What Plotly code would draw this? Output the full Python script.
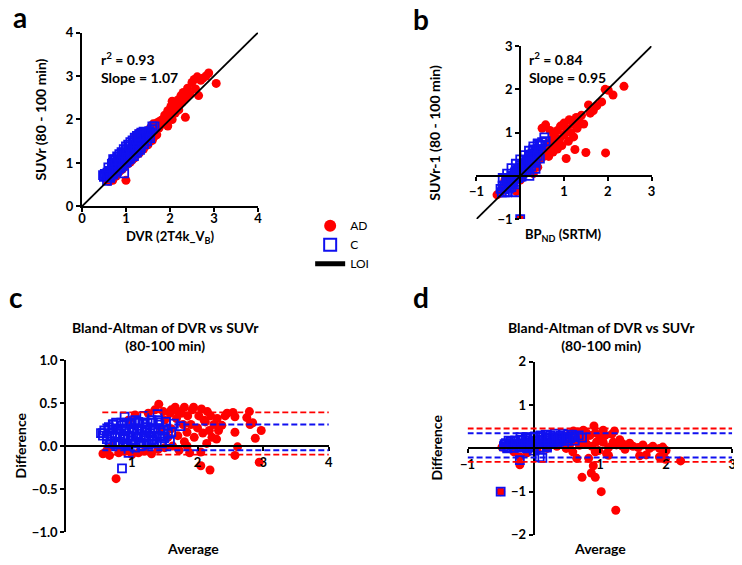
import plotly.graph_objects as go

W, H = 742, 565
OFF = 8  # default page body margin
FONT = "Lato"

# ---------------- Panel a: DVR vs SUVr ----------------
a_ad_x = [0.55,0.62,0.70,0.68,0.78,0.85,0.92,1.00,0.98,1.05,1.10,1.15,1.20,1.25,1.30,1.35,1.40,1.45,1.50,1.55,1.60,1.65,1.70,1.30,1.38,1.22,1.45,1.55,1.62,1.70,1.75,1.80,1.85,1.88,1.92,1.95,2.00,2.02,2.05,2.08,2.10,2.12,2.15,2.18,2.20,2.22,2.25,2.28,2.30,2.35,2.35,2.40,2.45,2.50,2.55,2.58,2.62,2.65,2.70,2.75,2.82,2.88,3.05,1.75,1.95,2.05,1.60,1.50]
a_ad_y = [0.62,0.58,0.60,0.72,0.70,0.80,0.86,0.60,0.92,0.98,1.02,1.08,1.12,1.20,1.22,1.30,1.32,1.40,1.42,1.50,1.52,1.62,1.65,1.70,1.66,1.62,1.72,1.80,1.90,1.92,1.80,1.98,1.90,2.10,2.02,2.20,2.12,2.30,2.00,2.25,2.38,2.15,2.30,2.45,2.22,2.35,2.55,2.40,2.62,2.05,2.48,2.72,2.58,2.85,2.92,2.70,2.98,2.55,2.90,2.95,3.00,3.07,2.83,1.95,1.85,2.42,1.70,1.60]
a_c_x = [0.50,0.52,0.55,0.58,0.60,0.62,0.65,0.68,0.70,0.72,0.75,0.78,0.80,0.82,0.85,0.88,0.90,0.92,0.95,0.98,1.00,1.02,1.05,1.08,1.10,1.12,1.15,1.18,1.20,1.22,1.25,1.28,1.30,1.33,1.35,1.38,1.40,1.45,1.50,1.55,1.60,1.65,
         0.70,0.75,0.80,0.85,0.90,0.95,1.00,1.05,1.10,1.15,1.20,1.25,1.30,1.35,1.40,
         0.65,0.72,0.80,0.88,0.95,1.02,1.10,1.18,1.25,1.32,
         0.96,0.48,0.71,1.60,
         0.55,0.62,0.69,0.76,0.83,0.90,0.97,1.04,1.11,1.18,1.25,1.32,1.39,1.46,1.53,
         0.57,0.64,0.71,0.78,0.85,0.92,0.99,1.06,1.13,1.20,1.27,1.34,1.41,1.48,1.55,
         0.60,0.68,0.76,0.84,0.92,1.00,1.08,1.16,1.24,1.32]
a_c_y = [0.68,0.75,0.70,0.78,0.74,0.82,0.80,0.86,0.84,0.92,0.90,0.96,0.94,1.00,0.98,1.05,1.02,1.10,1.08,1.14,1.12,1.18,1.16,1.24,1.22,1.30,1.26,1.34,1.32,1.40,1.38,1.46,1.42,1.50,1.48,1.56,1.52,1.60,1.62,1.70,1.78,1.84,
         1.00,1.08,1.15,1.20,1.25,1.32,1.38,1.42,1.48,1.52,1.58,1.62,1.66,1.70,1.72,
         0.70,0.76,0.82,0.90,0.96,1.02,1.10,1.16,1.24,1.30,
         0.76,0.72,1.09,1.84,
         0.75,0.82,0.89,0.96,1.03,1.10,1.17,1.24,1.31,1.38,1.45,1.52,1.59,1.66,1.73,
         0.59,0.66,0.73,0.80,0.87,0.94,1.01,1.08,1.15,1.22,1.29,1.36,1.43,1.50,1.57,
         0.90,0.98,1.06,1.14,1.22,1.30,1.38,1.46,1.54,1.62]

# ---------------- Panel b: BPND vs SUVr-1 ----------------
b_ad_x = [-0.53,-0.45,-0.40,-0.30,-0.09,-0.35,-0.20,0.00,0.10,0.20,0.30,0.40,0.45,0.50,0.55,0.60,0.62,0.65,0.70,0.72,0.75,0.78,0.80,0.85,0.85,0.90,0.92,0.95,1.00,1.00,1.05,1.05,1.10,1.12,1.15,1.20,1.22,1.25,1.28,1.30,1.35,1.40,1.45,1.50,1.56,1.60,1.67,1.75,1.86,1.94,1.95,2.01,2.12,2.37,0.50,0.58,0.68,0.00,0.30,0.40]
b_ad_y = [-0.44,-0.40,-0.30,-0.28,-0.36,-0.10,-0.20,-0.10,0.05,0.15,0.28,0.35,0.50,0.42,0.60,0.55,0.75,0.45,0.65,0.85,0.55,0.95,0.75,0.62,1.05,0.85,1.15,0.70,0.95,1.22,0.40,1.10,0.80,1.30,1.00,1.20,0.90,0.61,1.35,1.10,1.25,1.40,1.20,0.54,1.64,1.45,1.51,1.62,1.71,2.00,0.53,1.98,1.87,2.07,1.10,1.18,1.05,-1.00,0.05,0.20]
b_c_x = [-0.45,-0.40,-0.35,-0.32,-0.28,-0.25,-0.22,-0.18,-0.15,-0.12,-0.08,-0.05,-0.02,0.02,0.05,0.08,0.12,0.15,0.18,0.22,0.25,0.28,0.32,0.35,0.40,0.45,0.50,0.55,0.58,
         -0.40,-0.30,-0.20,-0.10,0.00,0.10,0.20,0.30,0.40,
         -0.35,-0.25,-0.15,-0.05,0.05,0.15,0.25,0.35,0.45,
         0.35,0.21,0.03,-0.10,0.00,
         -0.42,-0.36,-0.30,-0.24,-0.18,-0.12,-0.06,0.00,0.06,0.12,0.18,0.24,0.30,0.36,0.42,0.48,
         -0.40,-0.30,-0.20,-0.10,0.00,0.10,0.20,0.30,0.40,
         -0.30,-0.20,-0.10,0.00,0.10,0.20,0.30,0.40]
b_c_y = [-0.30,-0.22,-0.25,-0.12,-0.18,-0.05,-0.10,0.00,-0.02,0.08,0.05,0.15,0.10,0.20,0.18,0.28,0.25,0.36,0.32,0.44,0.40,0.52,0.50,0.60,0.62,0.72,0.78,0.89,0.80,
         -0.05,0.05,0.18,0.28,0.38,0.48,0.58,0.68,0.75,
         -0.38,-0.28,-0.15,-0.05,0.05,0.12,0.22,0.30,0.40,
         0.16,0.00,-0.02,-0.38,-1.00,
         -0.38,-0.31,-0.24,-0.17,-0.10,-0.02,0.05,0.12,0.19,0.26,0.34,0.41,0.48,0.55,0.62,0.70,
         -0.23,-0.11,0.01,0.13,0.25,0.37,0.49,0.61,0.73,
         -0.38,-0.26,-0.14,-0.02,0.10,0.22,0.34,0.46]

# ---------------- Panel c: Bland-Altman (DVR vs SUVr) ----------------
c_ad_x = [0.56,0.66,0.62,0.70,0.76,0.80,0.90,1.00,1.10,1.20,1.30,1.40,1.41,1.45,1.50,1.50,1.55,1.58,1.60,1.62,1.66,1.68,1.70,1.72,1.75,1.78,1.80,1.84,1.84,1.85,1.88,1.90,1.92,1.94,1.95,2.00,2.02,2.05,2.05,2.06,2.08,2.10,2.12,2.14,2.15,2.18,2.19,2.20,2.22,2.25,2.29,2.30,2.32,2.37,2.42,2.45,2.54,2.57,2.57,2.57,2.61,2.75,2.79,2.80,2.84,2.88,2.94,2.97,1.35,1.60,1.25,1.05,0.95,1.70,1.80,1.48]
c_ad_y = [-0.09,-0.11,-0.05,0.00,-0.38,-0.08,-0.06,-0.10,-0.08,-0.06,-0.09,-0.04,0.485,0.20,0.30,-0.02,0.10,0.38,0.20,0.00,0.45,0.32,0.12,-0.05,0.38,0.25,0.05,0.16,0.00,0.35,-0.08,0.25,0.42,0.45,0.10,0.21,0.35,-0.07,-0.23,0.43,0.15,0.30,0.28,0.03,0.40,0.18,-0.28,0.35,0.10,0.25,0.08,0.32,0.18,0.24,0.35,0.38,0.39,0.16,0.34,-0.11,-0.01,0.33,0.40,0.25,0.27,0.09,-0.19,0.18,0.42,0.42,0.38,0.36,0.30,0.40,0.45,0.40]
c_c_x = [0.53,0.56,0.58,0.62,0.65,0.68,0.70,0.72,0.75,0.78,0.80,0.82,0.85,0.88,0.89,0.90,0.92,0.95,0.98,1.00,1.02,1.05,1.08,1.10,1.12,1.15,1.18,1.19,1.22,1.25,1.28,1.30,1.32,1.35,1.38,1.39,1.42,1.45,1.48,1.49,1.52,1.55,1.58,1.64,1.74,0.71,0.56,0.85,0.95,1.10,1.00,0.90,1.20,1.30,0.75,1.05,1.15,1.40,1.60,
         0.66,0.74,0.82,0.90,0.98,1.06,1.14,1.22,1.30,1.38,1.46,
         0.62,0.70,0.78,0.86,0.94,1.02,1.10,1.18,1.26,1.34,1.42,1.50,
         0.64,0.72,0.80,0.88,0.96,1.04,1.12,1.20,1.28,1.36,1.44,
         0.76,0.84,0.92,1.00,1.08,1.16,1.24,1.32]
c_c_y = [0.15,0.12,0.18,0.08,0.22,0.05,0.15,0.25,0.10,0.20,0.02,0.14,0.24,0.08,0.34,0.18,0.00,0.12,0.26,0.06,0.20,-0.02,0.14,0.28,0.04,0.18,0.10,0.35,0.22,0.02,0.15,0.30,0.08,0.20,0.12,0.37,0.25,0.05,0.18,0.09,0.28,0.14,0.06,0.26,0.23,0.25,0.15,-0.26,-0.08,0.10,0.16,0.10,0.16,0.06,0.02,0.30,0.00,0.30,0.16,
         0.03,0.03,0.03,0.03,0.03,0.03,0.03,0.03,0.03,0.03,0.03,
         0.11,0.11,0.11,0.11,0.11,0.11,0.11,0.11,0.11,0.11,0.11,0.11,
         0.19,0.19,0.19,0.19,0.19,0.19,0.19,0.19,0.19,0.19,0.19,
         0.27,0.27,0.27,0.27,0.27,0.27,0.27,0.27]
c_ad_limits = [0.39, -0.10]
c_c_limits = [0.25, -0.05]

# ---------------- Panel d: Bland-Altman (BPND vs SUVr-1) ----------------
d_ad_x = [-0.48,-0.38,-0.30,-0.21,-0.21,-0.10,0.05,0.20,0.35,0.45,0.49,0.52,0.55,0.59,0.62,0.65,0.66,0.69,0.72,0.73,0.75,0.77,0.80,0.83,0.85,0.87,0.88,0.90,0.91,0.93,0.93,0.93,0.95,0.98,1.00,1.02,1.03,1.05,1.08,1.10,1.13,1.13,1.18,1.20,1.22,1.24,1.25,1.30,1.33,1.35,1.38,1.45,1.50,1.58,1.60,1.65,1.70,1.75,1.80,1.90,1.95,1.97,1.99,1.90,2.00,2.22,-0.50,0.60,0.70,0.80,1.05]
d_ad_y = [0.03,0.12,-0.08,-0.38,-0.20,-0.10,-0.05,0.00,0.05,0.15,0.00,0.30,0.10,-0.08,0.20,-0.23,0.38,0.07,0.25,-0.67,0.42,0.22,0.10,-0.23,0.30,-0.57,0.05,-0.40,0.52,0.36,-0.08,-0.67,0.15,-0.05,0.25,-1.00,0.20,0.14,0.30,-0.12,0.02,-0.16,0.33,0.14,0.40,-1.43,0.08,0.20,0.06,0.10,-0.02,0.12,0.05,0.02,-0.17,0.08,-0.15,0.00,0.05,0.00,0.03,-0.10,-0.25,-0.20,-0.05,-0.29,-1.00,0.40,0.15,0.35,0.42]
d_c_x = [-0.45,-0.42,-0.40,-0.38,-0.35,-0.32,-0.30,-0.28,-0.25,-0.22,-0.21,-0.20,-0.18,-0.15,-0.12,-0.10,-0.08,-0.05,-0.02,0.00,0.02,0.05,0.08,0.09,0.10,0.13,0.12,0.15,0.18,0.20,0.22,0.25,0.28,0.30,0.32,0.35,0.38,0.40,0.42,0.45,0.48,0.50,0.52,0.55,0.58,0.62,0.68,0.73,-0.32,0.00,-0.10,0.20,0.35,-0.50,
         -0.40,-0.30,-0.20,-0.10,0.00,0.10,0.20,
         -0.44,-0.34,-0.24,-0.14,-0.04,0.06,0.16,0.26,0.36,0.46,
         -0.38,-0.28,-0.18,-0.08,0.02,0.12,0.22,0.32,0.42,0.52,0.62,
         -0.20,-0.10,0.00,0.10,0.20,0.30,0.40,0.50,0.60]
d_c_y = [0.05,0.12,0.00,0.08,0.15,0.08,0.02,0.18,0.10,0.04,-0.27,0.20,0.12,0.06,0.22,0.14,0.05,0.25,0.16,0.08,0.28,0.18,0.10,-0.20,0.30,-0.22,0.20,0.12,0.32,0.22,0.14,0.30,0.20,0.12,0.34,0.24,0.16,0.30,0.22,0.34,0.26,0.18,0.32,0.24,0.32,0.28,0.30,0.25,0.08,-0.05,0.00,0.05,0.10,-1.00,
         0.02,0.02,0.02,0.02,0.02,0.02,0.02,
         0.10,0.10,0.10,0.10,0.10,0.10,0.10,0.10,0.10,0.10,
         0.18,0.18,0.18,0.18,0.18,0.18,0.18,0.18,0.18,0.18,0.18,
         0.26,0.26,0.26,0.26,0.26,0.26,0.26,0.26,0.26]
d_ad_limits = [0.46, -0.31]
d_c_limits = [0.35, -0.21]

loi_a = [0, 4]
loi_b = [-1, 3]

RED = "#FF0000"
BLUE = "#1010F0"


def px_x(p):
    return (p - OFF) / W


def px_y(p):
    return 1 - (p - OFF) / H


fig = go.Figure()


def add_pair(ax, ay, cx, cy, xa, ya, legend):
    fig.add_trace(go.Scatter(x=ax, y=ay, mode="markers", name="AD", showlegend=legend,
                             marker=dict(symbol="circle", size=9, color=RED, line=dict(width=0)),
                             xaxis=xa, yaxis=ya))
    fig.add_trace(go.Scatter(x=cx, y=cy, mode="markers", name="C", showlegend=legend,
                             marker=dict(symbol="square-open", size=8, color=BLUE, line=dict(width=1.8, color=BLUE)),
                             xaxis=xa, yaxis=ya))


add_pair(a_ad_x, a_ad_y, a_c_x, a_c_y, "x", "y", True)
fig.add_trace(go.Scatter(x=loi_a, y=loi_a, mode="lines", name="LOI", showlegend=True,
                         line=dict(color="black", width=1.8), xaxis="x", yaxis="y"))
add_pair(b_ad_x, b_ad_y, b_c_x, b_c_y, "x2", "y2", False)
fig.add_trace(go.Scatter(x=loi_b, y=loi_b, mode="lines", showlegend=False,
                         line=dict(color="black", width=1.8), xaxis="x2", yaxis="y2"))
add_pair(c_ad_x, c_ad_y, c_c_x, c_c_y, "x3", "y3", False)
add_pair(d_ad_x, d_ad_y, d_c_x, d_c_y, "x4", "y4", False)

dom = {
    "a": ([px_x(75), px_x(254)], [px_y(204), px_y(25)]),
    "b": ([px_x(476), px_x(654)], [px_y(217), px_y(39)]),
    "c": ([px_x(59), px_x(326)], [px_y(539), px_y(362)]),
    "d": ([px_x(467), px_x(736)], [px_y(542), px_y(364)]),
}

tickfont = dict(family=FONT, size=13, color="black", weight="bold")
base = dict(showline=True, linecolor="black", linewidth=2, ticks="outside", ticklen=4,
            tickwidth=2, tickcolor="black", showgrid=False, zeroline=False,
            tickfont=tickfont, fixedrange=True)

fig.update_layout(
    xaxis=dict(base, domain=dom["a"][0], range=[0, 4], tickvals=[0, 1, 2, 3, 4], anchor="y",
               ticklabelstandoff=-5),
    yaxis=dict(base, domain=dom["a"][1], range=[0, 4], tickvals=[0, 1, 2, 3, 4], anchor="x"),
    xaxis2=dict(base, domain=dom["b"][0], range=[-1, 3], tickvals=[-1, 1, 2, 3], anchor="free",
                position=dom["b"][1][0] + 0.25 * (dom["b"][1][1] - dom["b"][1][0])),
    yaxis2=dict(base, domain=dom["b"][1], range=[-1, 3], tickvals=[-1, 1, 2, 3], anchor="free",
                position=dom["b"][0][0] + 0.25 * (dom["b"][0][1] - dom["b"][0][0])),
    xaxis3=dict(base, domain=dom["c"][0], range=[0, 4], tickvals=[1, 2, 3, 4], anchor="free",
                position=dom["c"][1][0] + 0.5 * (dom["c"][1][1] - dom["c"][1][0])),
    yaxis3=dict(base, domain=dom["c"][1], range=[-1, 1], tickvals=[-1, -0.5, 0, 0.5, 1],
                tickformat=".1f", anchor="x3"),
    xaxis4=dict(base, domain=dom["d"][0], range=[-1, 3], tickvals=[-1, 1, 2, 3], anchor="free",
                position=dom["d"][1][0] + 0.5 * (dom["d"][1][1] - dom["d"][1][0])),
    yaxis4=dict(base, domain=dom["d"][1], range=[-2, 2], tickvals=[-2, -1, 1, 2], anchor="free",
                position=dom["d"][0][0] + 0.25 * (dom["d"][0][1] - dom["d"][0][0])),
    width=W, height=H, margin=dict(l=0, r=0, t=0, b=0),
    paper_bgcolor="white", plot_bgcolor="rgba(0,0,0,0)",
    font=dict(family=FONT, color="black"),
    legend=dict(x=px_x(307), y=px_y(209), xanchor="left", yanchor="top",
                font=dict(family=FONT, size=12, color="black"), bgcolor="rgba(0,0,0,0)",
                itemwidth=30, tracegroupgap=0, itemsizing="constant"),
)

for lim, col in ((c_ad_limits, RED), (c_c_limits, BLUE)):
    for y0 in lim:
        fig.add_shape(type="line", xref="x3", yref="y3", x0=0.55, x1=4, y0=y0, y1=y0,
                      line=dict(color=col, width=1.8, dash="6px,3px"))
for lim, col in ((d_ad_limits, RED), (d_c_limits, BLUE)):
    for y0 in lim:
        fig.add_shape(type="line", xref="x4", yref="y4", x0=-1, x1=3, y0=y0, y1=y0,
                      line=dict(color=col, width=1.8, dash="6px,3px"))


def ann(text, x, y, size=14, bold=True, angle=0, xanchor="center", yanchor="middle", align="center"):
    fig.add_annotation(text=text, x=px_x(x), y=px_y(y), xref="paper", yref="paper",
                       showarrow=False, textangle=angle, xanchor=xanchor, yanchor=yanchor, align=align,
                       font=dict(family=FONT, size=size, color="black", weight="bold" if bold else "normal"))


# panel letters
ann("a", 12.5, 9.5, size=28)
ann("b", 420, 11, size=28)
ann("c", 8.5, 297, size=28)
ann("d", 420, 297, size=28)

# stats
ann("r<sup>2</sup> = 0.93<br>Slope = 1.07", 92, 61, size=14, xanchor="left", align="left")
ann("r<sup>2</sup> = 0.84<br>Slope = 0.95", 527, 61, size=14, xanchor="left", align="left")

# axis titles
ann("DVR (2T4k_V<sub>B</sub>)", 165, 235, size=13)
ann("SUVr (80 - 100 min)", 33, 115, angle=-90)
ann("SUVr-1 (80 - 100 min)", 433, 128, angle=-90)
ann("BP<sub>ND</sub> (SRTM)", 565, 233, size=13)
ann("Difference", 13, 450, angle=-90)
ann("Average", 188, 556)
ann("Difference", 435, 452, angle=-90)
ann("Average", 602, 556)

# titles
ann("Bland-Altman of DVR vs SUVr<br>(80-100 min)", 160, 338, size=14)
ann("Bland-Altman of DVR vs SUVr<br>(80-100 min)", 603, 338, size=14)

fig.write_html("out.html")
